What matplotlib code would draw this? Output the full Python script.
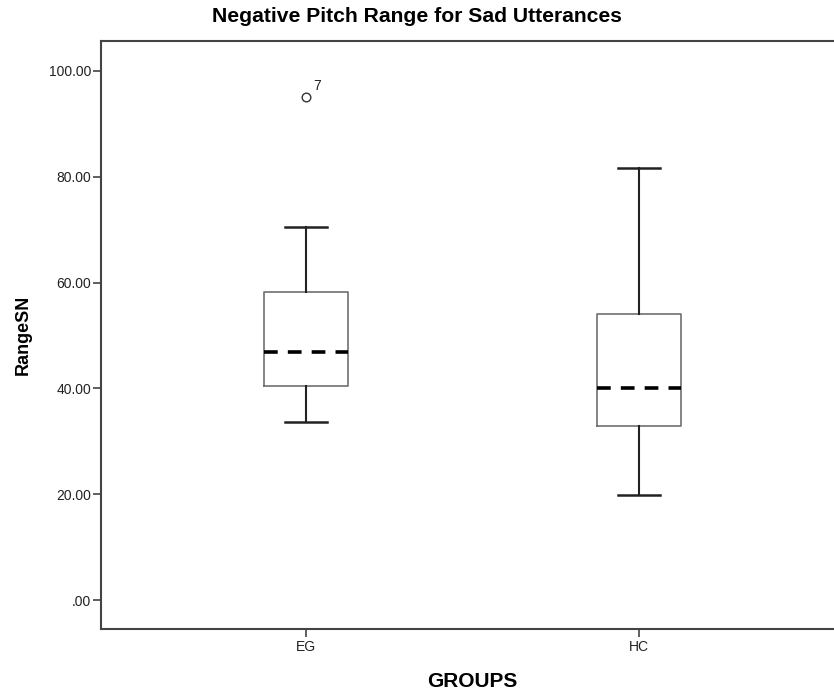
import matplotlib
matplotlib.use("Agg")
import matplotlib.pyplot as plt

plt.rcParams['font.family'] = ['Liberation Sans', 'DejaVu Sans']

# ---- data ----
groups = ["EG", "HC"]
whisker_low = [33.7, 19.8]
q1 = [40.5, 32.9]
median = [46.9, 40.1]
q3 = [58.2, 54.1]
whisker_high = [70.5, 81.7]
outlier_values = [[95.1], []]
outlier_labels = [["7"], []]
yticks = [0, 20, 40, 60, 80, 100]
ytick_labels = [".00", "20.00", "40.00", "60.00", "80.00", "100.00"]

fig = plt.figure(figsize=(8.34, 6.94), dpi=100)
ax = fig.add_axes([101/834, (694-629)/694, (833-101)/834, (629-41)/694])

stats = []
for i, g in enumerate(groups):
    stats.append(dict(label=g, whislo=whisker_low[i], q1=q1[i], med=median[i],
                      q3=q3[i], whishi=whisker_high[i], fliers=outlier_values[i]))

positions = list(range(1, len(groups) + 1))
ax.bxp(stats, positions=positions, widths=0.252, capwidths=0.126,
       showfliers=True,
       boxprops=dict(color="#707070", linewidth=1.2),
       whiskerprops=dict(color="#222222", linewidth=1.5),
       capprops=dict(color="#222222", linewidth=1.8),
       medianprops=dict(color="black", linewidth=2.6, linestyle=(0, (3.8, 2.8))),
       flierprops=dict(marker="o", markersize=6.2, markerfacecolor="white",
                       markeredgecolor="#333333", markeredgewidth=1.0))

for i, (vals, labs) in enumerate(zip(outlier_values, outlier_labels)):
    for v, lab in zip(vals, labs):
        ax.annotate(lab, xy=(positions[i], v), xytext=(5, 3), textcoords="offset points",
                    fontsize=10, color="#222222", ha="left", va="bottom")

ax.set_xlim(0.3844, 2.5826)
ax.set_ylim(-5.48, 105.67)
ax.set_yticks(yticks)
ax.set_yticklabels(ytick_labels)
ax.set_xticks(positions)
ax.set_xticklabels(groups)

for side in ["left", "bottom", "top"]:
    ax.spines[side].set_color("#444444")
    ax.spines[side].set_linewidth(1.5)
ax.spines["right"].set_visible(False)

ax.tick_params(axis="y", length=6, width=1.2, color="#444444", labelsize=10,
               labelcolor="#222222", pad=1)
ax.tick_params(axis="x", length=6, width=1.2, color="#444444", labelsize=10,
               labelcolor="#222222", pad=2)

ax.set_xlabel("GROUPS", fontsize=15, fontweight="bold")
ax.xaxis.set_label_coords((472 - 101) / (833 - 101), -43 / 588)
ax.set_ylabel("RangeSN", fontsize=13, fontweight="bold", labelpad=12)
fig.text(0.5, 1 - 17/694, "Negative Pitch Range for Sad Utterances", ha="center",
         va="center", fontsize=15.2, fontweight="bold")

fig.savefig("out.png", dpi=100)
